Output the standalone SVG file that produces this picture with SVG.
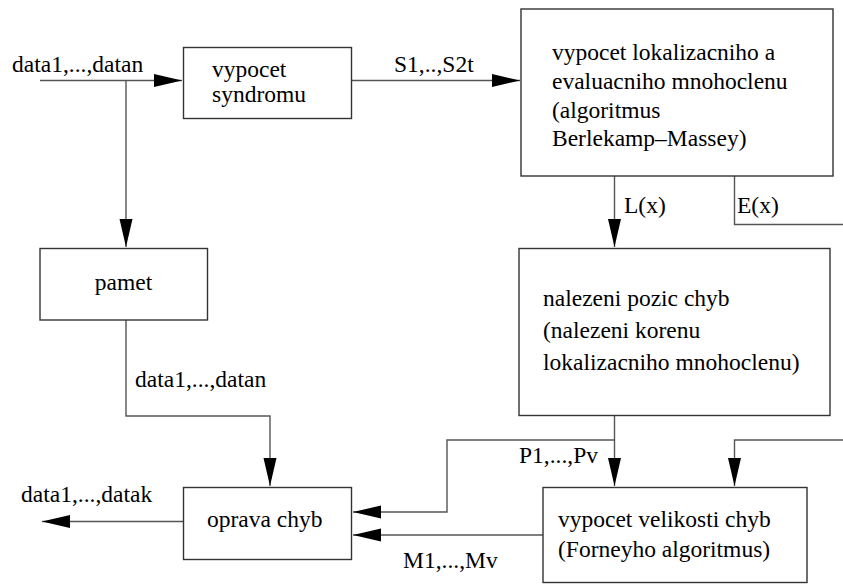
<svg xmlns="http://www.w3.org/2000/svg" width="843" height="584" viewBox="0 0 843 584">
<style>
.box{fill:#fff;stroke:#333;stroke-width:1.4}
.ln{fill:none;stroke:#555;stroke-width:1.4}
.t{font-family:'Liberation Serif','Times New Roman',serif;font-size:23.5px;fill:#000}
</style>
<defs>
<marker id="ah" markerUnits="userSpaceOnUse" markerWidth="28" markerHeight="14" refX="28" refY="6.5" orient="auto" viewBox="0 0 28 13">
<path d="M0,0 L28,6.5 L0,13 z" fill="#000"/>
</marker>
</defs>
<rect width="843" height="584" fill="#fff"/>
<g id="connectors">
<path class="ln" d="M40,80.5 H182" marker-end="url(#ah)"/>
<path class="ln" d="M126,80.5 V247" marker-end="url(#ah)"/>
<path class="ln" d="M351.5,80.5 H520" marker-end="url(#ah)"/>
<path class="ln" d="M614.5,176 V247" marker-end="url(#ah)"/>
<path class="ln" d="M734.5,176 V224.5 H843"/>
<path class="ln" d="M126,320 V416 H270 V486" marker-end="url(#ah)"/>
<path class="ln" d="M614.5,416 V486" marker-end="url(#ah)"/>
<path class="ln" d="M614.5,440 H447 V512 H353" marker-end="url(#ah)"/>
<path class="ln" d="M843,440 H734.5 V486" marker-end="url(#ah)"/>
<path class="ln" d="M543,535 H353" marker-end="url(#ah)"/>
<path class="ln" d="M183.5,521.5 H42" marker-end="url(#ah)"/>
<text class="t" x="12" y="72">data1,...,datan</text>
<text class="t" x="394" y="72">S1,..,S2t</text>
<text class="t" x="624" y="213">L(x)</text>
<text class="t" x="737" y="213">E(x)</text>
<text class="t" x="135" y="387">data1,...,datan</text>
<text class="t" x="21" y="502">data1,...,datak</text>
<text class="t" x="519" y="463">P1,...,Pv</text>
<text class="t" x="403" y="568">M1,...,Mv</text>
</g>
<g id="syndrom">
<rect class="box" x="183.5" y="47.5" width="168" height="71"/>
<text class="t" x="212" y="77">vypocet</text>
<text class="t" x="212" y="102">syndromu</text>
</g>
<g id="berlekamp">
<rect class="box" x="521" y="9" width="312" height="167"/>
<text class="t" x="552" y="60">vypocet lokalizacniho a</text>
<text class="t" x="552" y="89">evaluacniho mnohoclenu</text>
<text class="t" x="552" y="118">(algoritmus</text>
<text class="t" x="552" y="146">Berlekamp&#8211;Massey)</text>
</g>
<g id="pamet">
<rect class="box" x="40" y="248.5" width="167.5" height="71.5"/>
<text class="t" x="123.5" y="290" text-anchor="middle">pamet</text>
</g>
<g id="nalezeni">
<rect class="box" x="519" y="248.5" width="311" height="167"/>
<text class="t" x="543" y="306">nalezeni pozic chyb</text>
<text class="t" x="543" y="338">(nalezeni korenu</text>
<text class="t" x="543" y="370">lokalizacniho mnohoclenu)</text>
</g>
<g id="oprava">
<rect class="box" x="183.5" y="487.5" width="168" height="72"/>
<text class="t" x="207" y="527">oprava chyb</text>
</g>
<g id="forney">
<rect class="box" x="543" y="487.5" width="264" height="95"/>
<text class="t" x="558" y="527">vypocet velikosti chyb</text>
<text class="t" x="558" y="557">(Forneyho algoritmus)</text>
</g>
</svg>
